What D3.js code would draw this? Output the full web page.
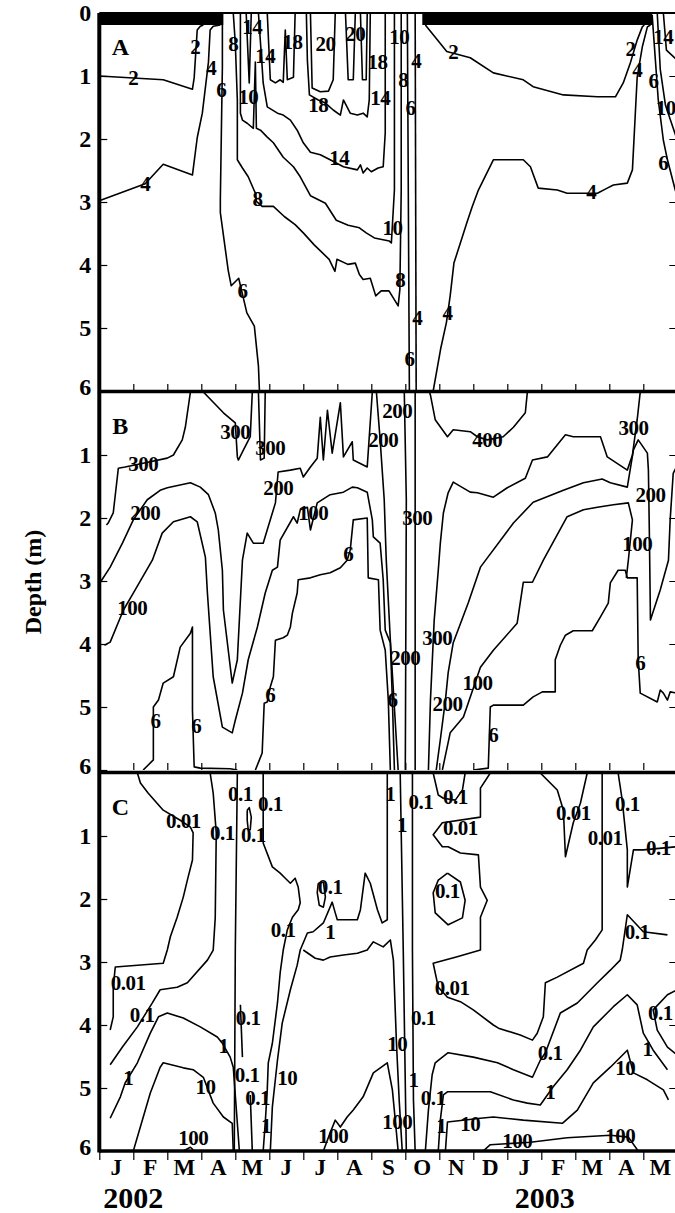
<!DOCTYPE html>
<html>
<head>
<meta charset="utf-8">
<script src="https://cdn.jsdelivr.net/npm/d3@7"></script>
<style>
  body { margin: 0; background: #fff; }
  text { font-family: "Liberation Serif", "Times New Roman", serif; font-weight: bold; fill: #000; }
</style>
</head>
<body>
<div id="chart"></div>
<script>
// month letters along the bottom (Jan 2002 .. May 2003)
var monthLabels = ["J","F","M","A","M","J","J","A","S","O","N","D","J","F","M","A","M"];
var yearLabels = [["2002", 1.0], ["2003", 13.1]];
var depthTicks = [0, 1, 2, 3, 4, 5, 6];

// ice cover periods (month from 1 Jan 2002)
var iceCover = [[0, 3.65], [9.5, 16.26]];

// contour lines, points are [month, depth (m)]
// A
var contoursA = [
  {v:"2", p:[[0,1.0],[1.88,1.06],[2.74,1.21],[2.79,1.03],[2.88,0.27],[2.97,0.21],[3.06,0.19]]},
  {v:"4", p:[[0,2.98],[1.35,2.71],[1.88,2.4],[2.74,2.57],[2.88,1.98],[3.03,1.59],[3.21,0.78],[3.26,0.27],[3.35,0.21],[3.56,0.19]]},
  {v:"6", p:[[3.62,0.19],[3.62,0.86],[3.59,1.9],[3.56,2.97],[3.56,3.17],[3.79,4.08],[3.88,4.33],[4.1,4.21],[4.34,4.76],[4.56,4.97],[4.68,5.6],[4.71,6.0]]},
  {v:"8", p:[[3.94,0],[4.0,0.48],[4.06,1.38],[4.06,2.33],[4.21,2.46],[4.38,2.6],[4.59,2.86],[4.62,2.99],[4.79,3.07],[5.12,3.07],[5.44,3.23],[5.76,3.36],[6.0,3.49],[6.32,3.68],[6.76,3.91],[6.93,4.1],[6.99,3.91],[7.31,3.99],[7.53,3.97],[7.65,4.15],[7.76,4.23],[7.97,4.21],[8.13,4.49],[8.29,4.41],[8.52,4.41],[8.79,4.65],[8.84,4.39],[8.88,2.81],[8.88,0]]},
  {v:"10", p:[[4.15,0],[4.15,1.59],[4.21,1.7],[4.35,1.75],[4.53,1.83],[4.59,0.78],[4.62,1.83],[4.74,1.86],[4.94,1.97],[5.12,2.06],[5.41,2.29],[5.71,2.44],[5.91,2.6],[6.21,2.9],[6.65,3.02],[6.97,3.29],[7.32,3.37],[7.65,3.41],[7.85,3.49],[8.09,3.57],[8.53,3.62],[8.59,3.65],[8.68,2.81],[8.68,0]]},
  {v:"14", p:[[4.32,0],[4.41,1.11],[4.47,0]]},
  {v:"14", p:[[4.68,0],[4.79,0.86],[4.82,1.11],[4.94,1.49],[5.24,1.59],[5.41,1.62],[5.62,1.7],[5.82,1.86],[6.0,2.06],[6.21,2.21],[6.5,2.25],[6.79,2.33],[7.18,2.44],[7.59,2.49],[7.68,2.41],[7.76,2.54],[7.88,2.46],[8.0,2.52],[8.2,2.46],[8.35,2.44],[8.41,1.9],[8.41,0]]},
  {v:"18", p:[[4.94,0],[5.03,1.06],[5.18,1.11],[5.32,1.06],[5.41,1.1],[5.47,0.27],[5.53,1.06],[5.71,1.02],[5.76,0]]},
  {v:"18", p:[[6.09,0],[6.12,0.75],[6.18,1.3],[6.44,1.38],[6.65,1.43],[6.88,1.54],[7.09,1.62],[7.18,1.38],[7.38,1.59],[7.59,1.62],[7.76,1.59],[7.88,1.65],[7.94,1.38],[7.97,0]]},
  {v:"20", p:[[6.21,0],[6.26,1.19],[6.5,1.25],[6.74,1.24],[6.88,1.06],[6.94,0]]},
  {v:"20", p:[[7.24,0],[7.32,1.06],[7.47,1.06],[7.53,0]]},
  {v:"20", p:[[7.68,0],[7.74,1.06],[7.85,1.06],[7.88,0]]},
  {v:"6", p:[[9.06,0],[9.09,3.0],[9.12,6.0]]},
  {v:"4", p:[[9.29,0],[9.32,6.0]]},
  {v:"2", p:[[9.59,0.19],[10.22,0.61],[10.91,0.71],[11.59,0.95],[12.47,1.06],[12.76,1.17],[13.65,1.3],[14.65,1.33],[15.18,1.33],[15.41,1.11],[15.62,0.79],[15.82,0.43],[15.97,0.22],[16.03,0.19]]},
  {v:"4", p:[[9.82,6.0],[10.04,5.33],[10.21,4.91],[10.32,4.49],[10.43,3.97],[10.81,3.33],[10.97,3.07],[11.15,2.81],[11.59,2.33],[12.47,2.33],[12.68,2.44],[12.91,2.78],[13.47,2.81],[13.76,2.86],[14.65,2.86],[14.94,2.78],[15.12,2.73],[15.53,2.7],[15.68,2.49],[15.76,1.65],[15.82,1.02],[15.97,0.54],[16.12,0.22],[16.21,0.19]]},
  {v:"6", p:[[16.26,0.03],[16.44,1.38],[16.59,2.02],[16.71,2.33],[16.94,2.81],[17,2.9]]},
  {v:"10", p:[[16.41,0],[16.5,0.9],[16.65,1.46],[17,2.02]]},
  {v:"14", p:[[16.59,0],[16.68,0.59],[17,0.75]]}
];
var labelsA = [[1.0,1.03,"2"],[2.82,0.54,"2"],[1.35,2.71,"4"],[3.29,0.87,"4"],[3.59,1.22,"6"],[3.94,0.48,"8"],[4.5,0.22,"14"],[4.88,0.68,"14"],[5.68,0.46,"18"],[6.65,0.48,"20"],[7.53,0.32,"20"],[4.38,1.33,"10"],[6.44,1.46,"18"],[7.06,2.29,"14"],[4.65,2.94,"8"],[4.21,4.4,"6"],[8.62,3.41,"10"],[8.85,4.24,"8"],[8.82,0.37,"10"],[8.18,0.78,"18"],[8.26,1.35,"14"],[9.32,0.75,"4"],[8.94,1.06,"8"],[9.15,1.51,"6"],[9.35,4.84,"4"],[9.12,5.48,"6"],[10.41,0.62,"2"],[15.62,0.56,"2"],[15.82,0.9,"4"],[14.47,2.84,"4"],[10.24,4.75,"4"],[16.59,0.38,"14"],[16.3,1.08,"6"],[16.66,1.5,"10"],[16.59,2.37,"6"]];

// B
var contoursB = [
  {v:"300", p:[[0.21,2.11],[0.26,2.08],[0.41,1.92],[0.56,1.21],[0.76,1.19],[1.29,1.13],[2.0,1.05],[2.18,1.0],[2.44,0.76],[2.53,0.56],[2.68,0]]},
  {v:"300", p:[[3.06,0],[3.65,0.33],[4.0,0.49],[4.06,1.03],[4.09,1.08],[4.24,0.92],[4.44,0.71],[4.5,0]]},
  {v:"300", p:[[4.68,0],[4.74,1.08],[4.85,1.05],[4.88,0]]},
  {v:"200", p:[[0.03,3.02],[0.32,2.78],[0.68,2.4],[1.0,2.03],[1.41,1.71],[1.79,1.56],[2.0,1.52],[2.68,1.44],[2.97,1.51],[3.21,1.63],[3.41,1.92],[3.5,2.19],[3.56,2.51],[3.62,2.83],[3.65,3.46],[3.91,4.62],[4.06,4.25],[4.21,2.67],[4.35,2.24],[4.53,2.4],[4.82,2.4],[5.18,1.76],[5.26,1.27],[5.62,1.24],[5.91,1.21],[6.0,1.35],[6.21,1.19],[6.41,1.05],[6.5,0.4],[6.59,1.08],[6.71,0.29],[6.85,0.97],[7.09,0.17],[7.18,1.03],[7.44,0.79],[7.47,1.08],[7.88,1.19],[8.03,0],[8.15,0],[8.26,0.76],[8.38,1.71],[8.44,2.67],[8.56,3.94],[8.79,6.0]]},
  {v:"100", p:[[0.15,4.02],[0.32,3.97],[0.71,3.46],[0.97,3.22],[1.56,2.67],[1.85,2.24],[2.18,2.06],[2.68,1.98],[2.88,2.06],[3.12,2.62],[3.18,3.19],[3.35,4.52],[3.62,5.32],[3.91,5.41],[4.0,5.21],[4.21,4.78],[4.38,4.25],[4.65,3.73],[4.88,3.19],[5.09,2.83],[5.24,2.78],[5.32,2.35],[5.71,1.98],[5.82,2.08],[5.91,1.87],[6.12,1.83],[6.21,2.19],[6.41,1.76],[6.79,1.63],[7.18,1.59],[7.44,1.51],[7.59,1.52],[7.88,1.59],[8.03,2.03],[8.06,2.3],[8.26,2.4],[8.35,2.98],[8.41,3.78],[8.56,3.98],[8.62,4.89],[8.68,6.0]]},
  {v:"6", p:[[1.29,6.0],[1.59,5.84],[1.59,5.0],[1.74,4.89],[1.88,4.62],[2.18,4.52],[2.38,4.05],[2.68,3.83],[2.74,3.73],[2.74,5.05],[2.79,5.95],[2.97,5.97],[3.85,5.98],[4.06,6.0]]},
  {v:"6", p:[[4.59,6.0],[4.71,5.84],[4.79,5.73],[4.85,4.94],[4.94,4.92],[5.03,4.68],[5.12,4.52],[5.18,3.94],[5.41,3.9],[5.53,3.86],[5.62,3.73],[5.68,3.51],[5.82,3.19],[5.85,2.98],[6.21,2.95],[6.5,2.9],[6.79,2.87],[7.09,2.79],[7.29,2.67],[7.38,2.51],[7.47,2.03],[7.88,2.0],[7.91,2.95],[8.21,2.98],[8.26,3.78],[8.41,4.1],[8.5,4.89],[8.56,6.0]]},
  {v:"200", p:[[8.97,0],[9.03,1.71],[9.0,6.0]]},
  {v:"300", p:[[9.29,0],[9.29,6.0]]},
  {v:"400", p:[[9.71,0],[9.74,0.05],[9.88,0.44],[10.24,0.71],[10.41,0.6],[10.91,0.63],[11.12,0.71],[11.41,0.76],[11.88,0.71],[12.18,0.56],[12.53,0.33],[12.59,0]]},
  {v:"300", p:[[9.68,6.0],[9.74,4.89],[9.85,3.62],[9.97,2.83],[10.03,2.4],[10.12,1.92],[10.26,1.6],[10.41,1.43],[10.91,1.59],[11.12,1.6],[11.59,1.67],[12.0,1.52],[12.53,1.37],[12.74,1.08],[13.18,1.03],[13.71,0.68],[13.94,0.71],[14.74,0.71],[14.94,1.03],[15.53,1.24],[15.68,1.0],[15.82,0.44],[15.91,0]]},
  {v:"200", p:[[9.91,6.0],[10.03,5.52],[10.18,4.89],[10.26,4.46],[10.41,3.98],[10.85,3.35],[11.21,2.78],[12.18,2.08],[12.76,1.75],[13.65,1.56],[14.24,1.44],[14.79,1.38],[15.03,1.44],[15.53,1.51],[15.71,0.92],[15.85,0.76],[16.12,0.97],[16.15,1.24],[16.18,2.3],[16.21,3.62],[16.5,3.14],[16.74,2.67],[16.79,2.03],[16.88,1.29],[17.0,1.16]]},
  {v:"100", p:[[10.09,6.0],[10.32,5.41],[10.71,5.16],[11.21,4.37],[11.59,4.1],[12.29,3.67],[12.47,3.02],[12.74,3.02],[13.06,2.67],[13.76,1.98],[14.24,1.87],[14.65,1.83],[15.12,1.79],[15.56,1.76],[15.68,2.03],[15.56,2.67],[15.5,2.95]]},
  {v:"6", p:[[11.0,6.0],[11.44,5.97],[11.5,5.0],[11.59,4.97],[12.47,4.97],[12.76,4.84],[13.03,4.76],[13.41,4.76],[13.41,4.25],[13.56,4.02],[13.71,3.86],[13.94,3.79],[14.5,3.79],[14.74,3.57],[14.97,3.35],[15.03,3.03],[15.26,2.83],[15.47,2.83],[15.53,2.95],[15.82,2.95],[15.85,4.25],[15.91,4.78],[16.41,4.92],[16.5,4.73],[16.59,4.78],[16.71,4.89],[16.79,4.76],[17.0,4.78]]}
];
var labelsB = [[1.29,1.13,"300"],[4.0,0.63,"300"],[5.03,0.89,"300"],[1.35,1.92,"200"],[0.97,3.43,"100"],[1.65,5.21,"6"],[2.85,5.29,"6"],[5.26,1.52,"200"],[6.29,1.92,"100"],[7.32,2.56,"6"],[5.03,4.81,"6"],[8.35,0.76,"200"],[8.76,0.3,"200"],[9.35,2.0,"300"],[9.94,3.9,"300"],[9.0,4.21,"200"],[8.62,4.89,"6"],[10.24,4.94,"200"],[11.12,4.62,"100"],[11.59,5.44,"6"],[11.41,0.76,"400"],[15.71,0.56,"300"],[16.21,1.63,"200"],[15.82,2.4,"100"],[15.91,4.3,"6"]];

// C
var contoursC = [
  {v:"0.01", p:[[1.12,0],[1.21,0.16],[1.44,0.32],[1.88,0.59],[2.38,0.75],[2.68,0.86],[2.76,0.95],[2.74,1.38],[2.59,1.7],[2.47,1.97],[2.29,2.29],[2.09,2.6],[2.0,2.81],[1.88,3.02],[0.47,3.08],[0.41,3.4],[0.41,3.87],[0.32,4.08]]},
  {v:"0.1", p:[[3.26,0],[3.35,0.32],[3.44,0.95],[3.41,2.3],[3.35,2.81],[3.18,2.97],[2.59,3.33],[2.29,3.4],[1.79,3.44],[1.56,3.65],[1.12,4.03],[0.68,4.35],[0.32,4.63]]},
  {v:"1", p:[[0.32,5.48],[0.62,5.14],[0.76,4.92],[1.12,4.6],[1.5,4.13],[1.74,3.87],[2.0,3.81],[2.47,3.89],[2.97,4.03],[3.47,4.19],[3.62,4.29],[3.85,4.51],[3.94,4.67],[4.12,6.0]]},
  {v:"10", p:[[1.0,6.0],[1.5,5.08],[1.79,4.67],[1.88,4.6],[2.47,4.68],[2.76,4.71],[3.06,4.83],[3.35,5.24],[3.65,5.46],[3.91,5.56],[3.94,6.0]]},
  {v:"100", p:[[2.47,6.0],[2.68,5.94],[2.76,5.98]]},
  {v:"0.1", p:[[4.06,0],[4.0,2.81],[3.97,6.0]]},
  {v:"0.1", p:[[4.15,3.68],[4.21,4.51]]},
  {v:"0.1", p:[[4.35,0.59],[4.41,0.55],[4.47,0.7],[4.44,0.9],[4.38,0.9],[4.35,0.75],[4.35,0.59]]},
  {v:"0.1", p:[[4.82,0],[4.82,1.11],[5.09,1.49],[5.32,1.59],[5.47,1.67],[5.62,1.75],[5.76,1.67],[5.85,1.81],[5.91,2.06],[5.85,2.17],[5.68,2.29],[5.53,2.49],[5.41,2.81],[5.32,3.17],[5.24,3.65],[5.09,4.29],[4.97,4.6],[4.94,5.03],[4.88,5.56],[4.82,6.0]]},
  {v:"0.1", p:[[4.44,5.11],[4.5,6.0]]},
  {v:"1", p:[[5.03,6.0],[5.09,5.3],[5.24,4.56],[5.38,3.97],[5.62,3.44],[5.82,3.05],[5.91,2.81],[6.12,2.54],[6.29,2.52],[6.59,2.38],[6.85,2.05],[6.94,2.22],[7.0,2.33],[7.59,2.33],[7.68,2.17],[7.82,1.59],[7.97,1.75],[8.18,2.17],[8.32,2.38],[8.47,2.33],[8.47,0]]},
  {v:"0.1", p:[[6.44,1.75],[6.59,1.73],[6.65,1.97],[6.59,2.13],[6.47,2.1],[6.41,1.9],[6.44,1.75]]},
  {v:"10", p:[[6.0,2.81],[6.35,2.94],[6.59,2.97],[6.79,2.92],[7.18,2.89],[7.59,2.86],[7.88,2.81],[8.06,2.68],[8.35,2.76],[8.56,2.65],[8.65,2.97],[8.74,4.29],[8.82,5.19],[8.91,6.0]]},
  {v:"100", p:[[6.59,6.0],[6.79,5.71],[6.94,5.51],[7.09,5.62],[7.29,5.46],[7.47,5.35],[7.76,5.14],[8.06,4.76],[8.47,4.6],[8.62,5.03],[8.71,5.54],[8.79,6.0]]},
  {v:"1", p:[[8.85,0],[8.94,2.81],[9.03,6.0]]},
  {v:"0.1", p:[[9.21,0],[9.21,2.81],[9.24,5.19],[9.29,6.0]]},
  {v:"0.1", p:[[9.82,0],[9.97,0.35],[10.12,0.4],[10.47,0.43],[10.68,0.27],[10.76,0]]},
  {v:"0.01", p:[[11.5,0],[11.21,0.24],[11.21,0.7],[10.09,0.79],[9.82,0.98],[10.09,1.17],[10.26,1.17],[10.62,1.27],[11.15,1.3],[11.21,1.81],[11.41,2.02],[11.21,2.29],[11.21,2.81],[10.5,2.92],[9.82,3.02],[9.97,3.4],[10.24,3.56],[10.62,3.63],[11.0,3.76],[11.59,4.0],[11.74,4.05],[12.38,4.16],[12.74,4.24],[12.88,4.13],[13.06,3.87],[13.12,3.33],[13.47,3.24],[14.24,3.02],[14.35,2.81],[14.59,2.65],[14.79,2.49],[14.79,0]]},
  {v:"0.1", p:[[10.24,1.59],[10.62,1.73],[10.76,2.02],[10.68,2.3],[10.26,2.41],[9.88,2.22],[9.82,1.9],[9.97,1.7],[10.24,1.59]]},
  {v:"0.01", p:[[12.97,0],[13.47,0.27],[13.65,0.59],[13.71,1.33],[13.94,0.79],[14.15,0.48],[14.35,0]]},
  {v:"0.1", p:[[15.26,0],[15.38,0.43],[15.53,1.22],[15.53,1.81],[15.71,1.22],[16.0,1.22],[17.0,1.17]]},
  {v:"0.1", p:[[9.59,6.0],[9.68,5.35],[9.79,4.79],[9.88,4.6],[9.97,4.56],[10.26,4.44],[11.0,4.51],[11.71,4.6],[12.18,4.71],[12.74,4.83],[12.97,4.56],[13.12,4.44],[13.56,3.81],[14.06,3.65],[14.65,3.33],[15.03,3.13],[15.32,2.97],[15.38,2.81],[15.53,2.25],[16.0,2.52],[16.71,2.57]]},
  {v:"1", p:[[9.97,6.0],[10.03,5.51],[10.12,5.11],[10.24,5.06],[11.5,5.06],[12.18,5.19],[12.59,5.24],[12.97,5.27],[13.35,4.98],[13.76,4.71],[14.15,4.4],[14.53,4.03],[15.12,3.71],[15.53,3.52],[15.82,3.68],[16.0,4.13],[16.29,4.4],[16.71,4.71]]},
  {v:"10", p:[[10.18,6.0],[10.24,5.54],[11.21,5.48],[11.59,5.46],[12.47,5.51],[13.62,5.56],[14.06,5.35],[14.53,4.92],[15.03,4.67],[15.53,4.4],[15.71,4.76],[16.12,4.87],[16.59,5.03],[16.74,5.19]]},
  {v:"100", p:[[11.29,6.0],[11.5,5.9],[12.68,5.86],[13.76,5.79],[15.03,5.75],[15.56,5.78],[15.85,6.0]]},
  {v:"0.1", p:[[17.0,3.44],[16.71,3.52],[16.29,3.76],[16.41,4.08],[16.71,4.35],[17.0,4.48]]}
];
var labelsC = [[2.47,0.75,"0.01"],[3.62,0.94,"0.1"],[4.15,0.32,"0.1"],[5.03,0.48,"0.1"],[4.53,0.98,"0.1"],[6.79,1.81,"0.1"],[5.41,2.49,"0.1"],[6.79,2.52,"1"],[0.85,3.33,"0.01"],[1.26,3.84,"0.1"],[0.85,4.83,"1"],[3.65,4.33,"1"],[3.12,4.98,"10"],[2.76,5.79,"100"],[4.38,3.89,"0.1"],[4.35,4.79,"0.1"],[4.66,5.16,"0.1"],[4.9,5.6,"1"],[5.53,4.83,"10"],[6.88,5.75,"100"],[8.56,0.32,"1"],[8.9,0.82,"1"],[9.46,0.46,"0.1"],[10.47,0.38,"0.1"],[10.62,0.86,"0.01"],[10.24,1.86,"0.1"],[13.94,0.63,"0.01"],[14.88,1.03,"0.01"],[15.53,0.48,"0.1"],[16.44,1.19,"0.1"],[15.82,2.52,"0.1"],[10.38,3.4,"0.01"],[9.53,3.89,"0.1"],[8.76,4.29,"10"],[13.26,4.44,"0.1"],[16.12,4.37,"1"],[16.5,3.81,"0.1"],[9.24,4.87,"1"],[15.47,4.67,"10"],[13.26,5.06,"1"],[9.82,5.16,"0.1"],[10.06,5.6,"1"],[8.76,5.54,"100"],[10.91,5.56,"10"],[12.29,5.83,"100"],[15.32,5.75,"100"]];

// layout
var width = 675, height = 1213;
var left = 99.3, right = 677.3;
var panelTops = [13, 392, 773];
var panelH = 378;

var svg = d3.select("#chart").append("svg")
  .attr("width", width)
  .attr("height", height);

var x = d3.scaleLinear().domain([0, 17]).range([left, right]);

var panels = [
  {name: "A", contours: contoursA, labels: labelsA, top: panelTops[0]},
  {name: "B", contours: contoursB, labels: labelsB, top: panelTops[1]},
  {name: "C", contours: contoursC, labels: labelsC, top: panelTops[2]}
];

panels.forEach(function(p, i) {
  var y = d3.scaleLinear().domain([0, 6]).range([p.top, p.top + panelH]);

  svg.append("clipPath").attr("id", "clip" + i)
    .append("rect")
    .attr("x", left).attr("y", p.top)
    .attr("width", right - left).attr("height", panelH);

  var g = svg.append("g").attr("clip-path", "url(#clip" + i + ")");

  var line = d3.line()
    .x(function(d) { return x(d[0]); })
    .y(function(d) { return y(d[1]); });

  g.selectAll("path.contour")
    .data(p.contours)
    .enter()
    .append("path")
    .attr("class", "contour")
    .attr("d", function(d) { return line(d.p); })
    .attr("fill", "none")
    .attr("stroke", "#000")
    .attr("stroke-width", 1.6)
    .attr("stroke-linejoin", "round");

  g.selectAll("text.lab")
    .data(p.labels)
    .enter()
    .append("text")
    .attr("class", "lab")
    .attr("x", function(d) { return x(d[0]); })
    .attr("y", function(d) { return y(d[1]); })
    .attr("dy", "0.35em")
    .attr("text-anchor", "middle")
    .attr("font-size", 21)
    .attr("letter-spacing", -0.5)
    .text(function(d) { return d[2]; });

  // panel letter
  svg.append("text")
    .attr("x", left + 21)
    .attr("y", p.top + 34)
    .attr("dy", "0.35em")
    .attr("text-anchor", "middle")
    .attr("font-size", 24)
    .text(p.name);

  // depth axis, ticks point inward
  var yAxis = d3.axisLeft(y)
    .tickValues(i === 0 ? depthTicks : depthTicks.slice(1))
    .tickSizeInner(-8)
    .tickSizeOuter(0)
    .tickPadding(8)
    .tickFormat(d3.format("d"));
  var ya = svg.append("g")
    .attr("transform", "translate(" + left + ",0)")
    .call(yAxis);
  ya.select(".domain").remove();
  ya.selectAll("line").attr("stroke-width", 1.2);
  ya.selectAll("text")
    .attr("font-size", 24)
    .attr("dy", function(d) { return d === 6 ? "0.15em" : "0.32em"; });
  ya.attr("font-family", null).attr("font-size", null);

  var yAxisR = d3.axisRight(y).tickValues([1, 2, 3, 4, 5]).tickSize(-8).tickFormat("");
  var yr = svg.append("g")
    .attr("transform", "translate(" + right + ",0)")
    .call(yAxisR);
  yr.select(".domain").remove();

  // month ticks pointing up from the lower edge of panels A and B
  if (i < 2) {
    var sep = svg.append("g")
      .attr("transform", "translate(0," + (p.top + panelH) + ")")
      .call(d3.axisTop(x).tickValues(d3.range(1, 17)).tickSize(7).tickFormat(""));
    sep.select(".domain").remove();
    sep.selectAll("line").attr("stroke-width", 1.2);
  }
});

// ice cover on top of panel A
svg.selectAll("rect.ice")
  .data(iceCover)
  .enter()
  .append("rect")
  .attr("class", "ice")
  .attr("x", function(d) { return x(d[0]); })
  .attr("width", function(d) { return x(d[1]) - x(d[0]); })
  .attr("y", panelTops[0])
  .attr("height", 12)
  .attr("fill", "#000");

// frame lines
var bottom = panelTops[2] + panelH;
svg.append("line").attr("x1", left).attr("x2", right).attr("y1", panelTops[0]).attr("y2", panelTops[0])
  .attr("stroke", "#000").attr("stroke-width", 2);
[panelTops[1] - 0.5, panelTops[2] - 0.5, bottom].forEach(function(yy) {
  svg.append("line").attr("x1", left).attr("x2", right).attr("y1", yy).attr("y2", yy)
    .attr("stroke", "#000").attr("stroke-width", 3.5);
});
svg.append("line").attr("x1", left).attr("x2", left).attr("y1", panelTops[0]).attr("y2", bottom + 1.5)
  .attr("stroke", "#000").attr("stroke-width", 4);
svg.append("line").attr("x1", right).attr("x2", right).attr("y1", panelTops[0]).attr("y2", bottom)
  .attr("stroke", "#000").attr("stroke-width", 3);

// bottom month axis
var xa = svg.append("g")
  .attr("transform", "translate(0," + (bottom + 1) + ")")
  .call(d3.axisBottom(x).tickValues(d3.range(0, 18)).tickSize(8).tickFormat(""));
xa.select(".domain").remove();
xa.selectAll("line").attr("stroke-width", 1.2);

svg.selectAll("text.month")
  .data(monthLabels)
  .enter()
  .append("text")
  .attr("class", "month")
  .attr("x", function(d, i) { return x(i + 0.5); })
  .attr("y", bottom + 16)
  .attr("dy", "0.35em")
  .attr("text-anchor", "middle")
  .attr("font-size", 23)
  .text(function(d) { return d; });

svg.selectAll("text.year")
  .data(yearLabels)
  .enter()
  .append("text")
  .attr("class", "year")
  .attr("x", function(d) { return x(d[1]); })
  .attr("y", bottom + 46)
  .attr("dy", "0.35em")
  .attr("text-anchor", "middle")
  .attr("font-size", 30)
  .text(function(d) { return d[0]; });

// y title
svg.append("text")
  .attr("transform", "translate(33," + ((panelTops[0] + bottom) / 2) + ")rotate(-90)")
  .attr("dy", "0.35em")
  .attr("text-anchor", "middle")
  .attr("font-size", 24)
  .text("Depth (m)");
</script>
</body>
</html>
